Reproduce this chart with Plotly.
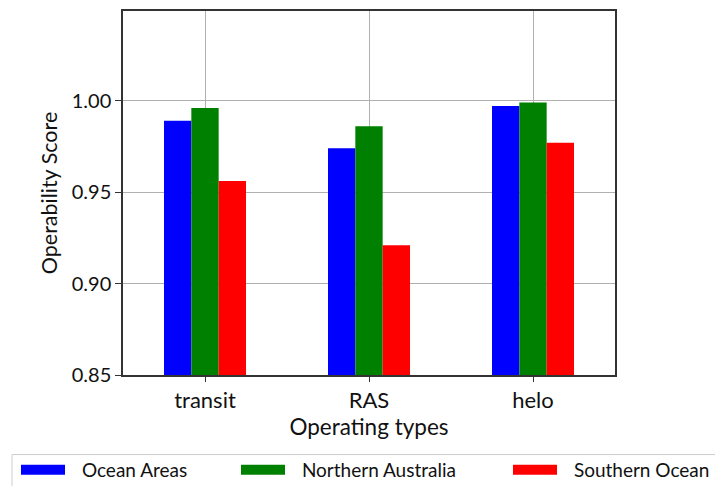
import plotly.graph_objects as go

categories = ["transit", "RAS", "helo"]
series_names = ["Ocean Areas", "Northern Australia", "Southern Ocean"]
ocean_areas = [0.989, 0.974, 0.997]
northern_australia = [0.996, 0.986, 0.999]
southern_ocean = [0.956, 0.921, 0.977]
colors = ["#0000ff", "#008000", "#ff0000"]
y_ticks = [0.85, 0.90, 0.95, 1.00]
y_tick_labels = ["0.85", "0.90", "0.95", "1.00"]

FONT = "Lato"
LEAD = "\u2002\u2009"          # gap between swatch and label
legend_ids = ["legend", "legend2", "legend3"]
legend_left_px = [16, 236, 508]

fig = go.Figure()
for name, vals, col in zip(series_names, [ocean_areas, northern_australia, southern_ocean], colors):
    fig.add_trace(go.Bar(x=categories, y=vals, name=name, marker=dict(color=col, line=dict(width=0)),
                         showlegend=False, legendgroup=name))
for name, col, lid in zip(series_names, colors, legend_ids):
    fig.add_trace(go.Scatter(x=[None], y=[None], mode="lines", name=LEAD + name, legendgroup=name,
                             legend=lid, line=dict(color=col, width=15)))

W, H = 715, 486
ML, MR, MT, MB = 123, 100, 9, 111
legend_common = dict(orientation="h", xref="container", yref="container", xanchor="left",
                     y=1 - 451 / H, yanchor="top", borderwidth=0, bgcolor="rgba(0,0,0,0)",
                     font=dict(size=19, family=FONT), itemwidth=44)
layout_legends = {lid: dict(legend_common, x=px / W) for lid, px in zip(legend_ids, legend_left_px)}

pw, ph = W - ML - MR, H - MT - MB
fig.update_layout(
    width=W, height=H,
    margin=dict(l=ML, r=MR, t=MT, b=MB),
    paper_bgcolor="white", plot_bgcolor="white",
    font=dict(family=FONT, size=19, color="#111111"),
    barmode="group", bargap=0.5, bargroupgap=0,
    shapes=[dict(type="rect", xref="paper", yref="paper",
                 x0=(12 - ML) / pw, x1=(725 - ML) / pw,
                 y0=-(455 - (H - MB)) / ph, y1=-(500 - (H - MB)) / ph,
                 line=dict(color="#cccccc", width=1), fillcolor="rgba(0,0,0,0)", layer="below")],
    **layout_legends,
)
fig.update_xaxes(
    range=[-0.5, 2.5], showgrid=True, gridcolor="#b0b0b0", gridwidth=1,
    showline=True, linecolor="#333333", linewidth=1.5, mirror=True,
    ticks="outside", ticklen=5, tickcolor="#333333",
    title=dict(text="Operating types", font=dict(size=22.5, family=FONT), standoff=2),
    tickfont=dict(size=22, family=FONT),
)
fig.update_yaxes(
    range=[0.85, 1.049], tickvals=y_ticks, ticktext=y_tick_labels,
    showgrid=True, gridcolor="#b0b0b0", gridwidth=1,
    showline=True, linecolor="#333333", linewidth=1.5, mirror=True,
    ticks="outside", ticklen=6, tickcolor="#333333",
    title=dict(text="Operability Score", font=dict(size=21.5, family=FONT), standoff=8),
    tickfont=dict(size=20, family=FONT),
)
fig.write_html("out.html")
